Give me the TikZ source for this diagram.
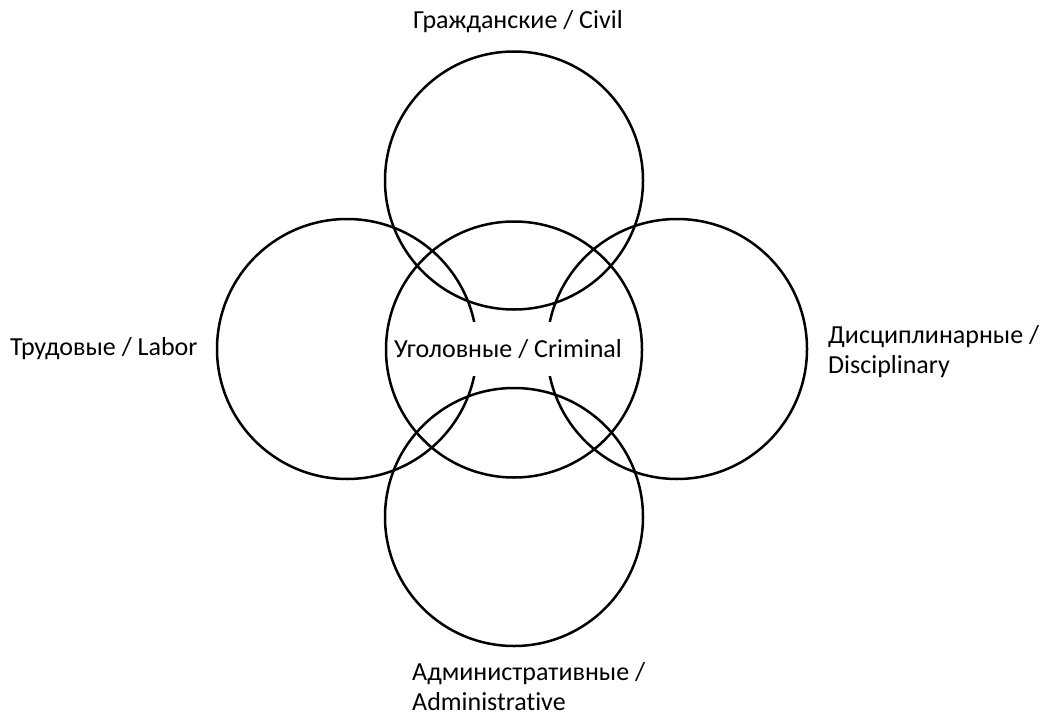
\documentclass[tikz,border=0pt]{standalone}
\usepackage{fontspec}
\setmainfont[Ligatures={NoCommon,NoDiscretionary}]{Carlito}
\begin{document}
\begin{tikzpicture}[x=1pt,y=-1pt,
  ring/.style={draw=black,line width=2.5pt},
  lbl/.style={font=\fontsize{26}{30}\selectfont,inner sep=0pt,align=left}]
\useasboundingbox (0,0) rectangle (1041,717);
\fill[white] (0,0) rectangle (1041,717);
\draw[ring] (514,180.5) circle (129);
\draw[ring] (347,349) circle (130);
\draw[ring] (677,349) circle (130);
\draw[ring] (514,517) circle (129);
\draw[ring] (514,349.5) circle (128);
\node[lbl,fill=white,minimum width=234pt,minimum height=54pt] (crim) at (508,349) {Уголовные / Criminal};
\node[lbl,anchor=west] (civ) at (413,22) {Гражданские / Civil};
\node[lbl,anchor=west] (lab) at (10,349) {Трудовые / Labor};
\node[lbl,anchor=north west] (dis) at (828,325) {Дисциплинарные /\\Disciplinary};
\node[lbl,anchor=north west] (adm) at (412,662) {Административные /\\Administrative};
\end{tikzpicture}
\end{document}
